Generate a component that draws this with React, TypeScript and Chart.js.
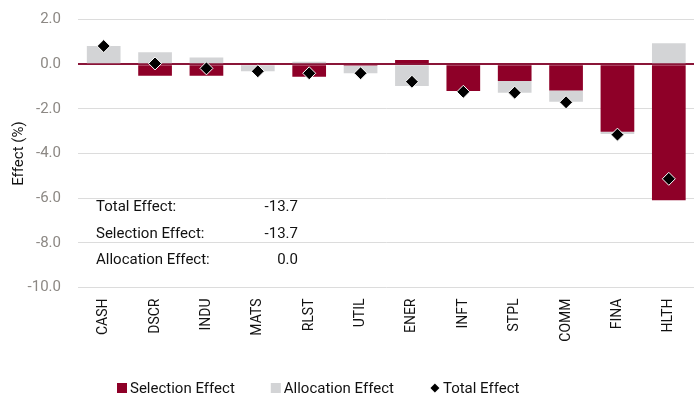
import React, { useEffect, useRef } from "react";
import { Chart, registerables } from "chart.js";

Chart.register(...registerables);

const categories = ["CASH", "DSCR", "INDU", "MATS", "RLST", "UTIL", "ENER", "INFT", "STPL", "COMM", "FINA", "HLTH"];
const selectionEffect = [0, -0.51, -0.51, 0, -0.56, -0.06, 0.19, -1.2, -0.75, -1.17, -3.02, -6.09];
const allocationEffect = [0.82, 0.54, 0.31, -0.31, 0.12, -0.34, -0.97, 0, -0.52, -0.51, -0.1, 0.94];
const totalEffect = [0.82, 0.04, -0.18, -0.31, -0.4, -0.4, -0.78, -1.23, -1.27, -1.7, -3.15, -5.13];

const summaryLabels = ["Total Effect:", "Selection Effect:", "Allocation Effect:"];
const summaryValues = ["-13.7", "-13.7", "0.0"];

const yMin = -10;
const yMax = 2;
const yStep = 2;

const RED = "#8e0028";
const GRAY = "#d3d4d6";
const FONT = "Roboto";

const summaryPlugin = {
  id: "summaryText",
  afterDatasetsDraw(chart: any) {
    const { ctx, chartArea } = chart;
    ctx.save();
    ctx.font = `15px ${FONT}`;
    ctx.fillStyle = "#111";
    ctx.textBaseline = "middle";
    summaryLabels.forEach((lab, i) => {
      const y = chartArea.top + 188 + i * 26.5;
      ctx.textAlign = "left";
      ctx.fillText(lab, chartArea.left + 18, y);
      ctx.textAlign = "right";
      ctx.fillText(summaryValues[i], chartArea.left + 220, y);
    });
    ctx.restore();
  },
};

const legendPlugin = {
  id: "customLegend",
  afterDraw(chart: any) {
    const { ctx } = chart;
    const items = [
      { label: "Selection Effect", kind: "box", color: RED },
      { label: "Allocation Effect", kind: "box", color: GRAY },
      { label: "Total Effect", kind: "diamond", color: "#000" },
    ];
    ctx.save();
    ctx.font = `15px ${FONT}`;
    ctx.textBaseline = "middle";
    ctx.textAlign = "left";
    const yc = 388;
    let x = 117;
    items.forEach((it) => {
      ctx.fillStyle = it.color;
      if (it.kind === "box") {
        ctx.fillRect(x, yc - 5, 10, 10);
      } else {
        const cx = x + 5;
        ctx.beginPath();
        ctx.moveTo(cx, yc - 4.5);
        ctx.lineTo(cx + 4.5, yc);
        ctx.lineTo(cx, yc + 4.5);
        ctx.lineTo(cx - 4.5, yc);
        ctx.closePath();
        ctx.fill();
      }
      ctx.fillStyle = "#111";
      ctx.fillText(it.label, x + 13, yc + 1);
      const w = ctx.measureText(it.label).width;
      x += 13 + w + 36;
    });
    ctx.restore();
  },
};

export default function App() {
  const ref = useRef<HTMLCanvasElement | null>(null);

  useEffect(() => {
    if (!ref.current) return;
    const chart = new Chart(ref.current, {
      data: {
        labels: categories,
        datasets: [
          {
            type: "line" as const,
            label: "Total Effect",
            data: totalEffect,
            showLine: false,
            pointStyle: "rectRot",
            pointRadius: 6.5,
            pointBackgroundColor: "#000",
            pointBorderColor: "#fff",
            pointBorderWidth: 1,
            stack: "total",
            order: 0,
          },
          {
            type: "bar" as const,
            label: "Selection Effect",
            data: selectionEffect,
            backgroundColor: RED,
            stack: "effects",
            order: 1,
            categoryPercentage: 0.8,
            barPercentage: 0.82,
          },
          {
            type: "bar" as const,
            label: "Allocation Effect",
            data: allocationEffect,
            backgroundColor: GRAY,
            stack: "effects",
            order: 2,
            categoryPercentage: 0.8,
            barPercentage: 0.82,
          },
        ],
      },
      options: {
        responsive: false,
        animation: false,
        devicePixelRatio: 1,
        layout: { padding: { top: 19.7, bottom: 52, left: 0, right: 0 } },
        plugins: {
          legend: { display: false },
          tooltip: { enabled: false },
        },
        scales: {
          x: {
            stacked: true,
            grid: { display: false, drawTicks: false },
            border: { display: false },
            ticks: {
              minRotation: 90,
              maxRotation: 90,
              padding: 11,
              color: "#111",
              font: { family: FONT, size: 14 },
            },
            afterFit(scale: any) {
              scale.height = 60.5;
            },
          },
          y: {
            stacked: true,
            min: yMin,
            max: yMax,
            grid: {
              drawTicks: false,
              color: (c: any) => (c.tick && c.tick.value === 0 ? "#8a1538" : "#dcdcdc"),
              lineWidth: (c: any) => (c.tick && c.tick.value === 0 ? 2 : 1),
            },
            border: { display: false },
            ticks: {
              stepSize: yStep,
              padding: 17,
              color: "#8c8884",
              font: { family: FONT, size: 15 },
              callback: (v: any) => Number(v).toFixed(1),
            },
            title: {
              display: true,
              text: "Effect (%)",
              color: "#111",
              font: { family: FONT, size: 15 },
              padding: { top: 10, bottom: 0 },
            },
            afterFit(scale: any) {
              scale.width = 78;
              scale.paddingTop = 0;
              scale.paddingBottom = 0;
            },
          },
        },
      },
      plugins: [summaryPlugin, legendPlugin],
    });
    return () => chart.destroy();
  }, []);

  return (
    <div style={{ position: "absolute", left: 0, top: 0, width: 694, height: 400, overflow: "hidden", background: "#fff" }}>
      <canvas ref={ref} width={702} height={400} style={{ display: "block", width: 702, height: 400 }} />
    </div>
  );
}
